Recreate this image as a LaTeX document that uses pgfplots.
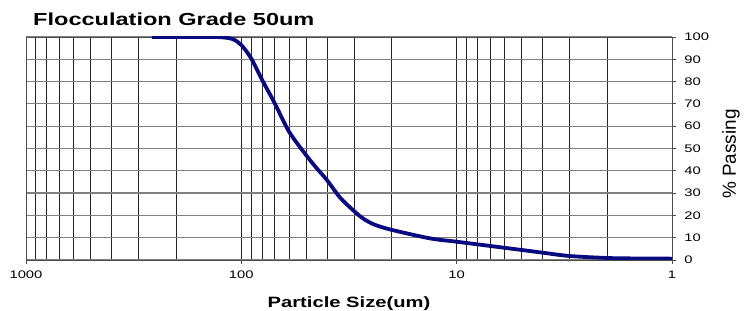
\documentclass[border=0pt]{standalone}
\usepackage{fontspec}
\setmainfont[FakeStretch=1.35]{Liberation Sans}
\newfontfamily\plainfont{Liberation Sans}
\usepackage{pgfplots}
\pgfplotsset{compat=1.18}
\definecolor{curve}{RGB}{10,10,128}
\begin{document}
\begin{tikzpicture}
\path[use as bounding box] (0,0) rectangle (745bp,311bp);
\begin{axis}[
  at={(26bp,51bp)}, anchor=south west,
  scale only axis, width=646bp, height=223bp,
  xmode=log, x dir=reverse,
  xmin=1, xmax=1000, ymin=0, ymax=100,
  xtick={1,10,100,1000}, xticklabels={1,10,100,1000},
  ytick={0,10,...,100}, yticklabels={0,10,20,30,40,50,60,70,80,90,100},
  xtick pos=left, ytick pos=right,
  yticklabel pos=right,
  grid=both,
  major grid style={line width=0.8bp, black!85},
  minor grid style={line width=0.8bp, black!85},
  y grid style={line width=1.2bp, black!50},
  tick align=outside,
  major tick length=4bp, minor tick length=0pt,
  tick style={black!70, line width=0.8bp},
  axis line style={black!70, line width=0.9bp},
  ticklabel style={font=\fontsize{11}{12}\selectfont},
  xticklabel style={yshift=-3bp},
  yticklabel style={xshift=5bp},
]
\addplot[curve, line width=3.8bp, smooth, tension=0.5] coordinates {
(1,0.6) (1.5,0.7) (2,0.9) (3,1.8) (4,3.3) (5,4.5) (7,6.3) (10,8.2)
(13.3,9.7) (20,13.5) (24,15.8) (27,18.4) (30,22) (34.8,28) (40,35.8)
(45,41.5) (50,47) (60,57.5) (70,70.3) (80,80.7) (90,90.4) (100,96.4) (110,99.1)
(125,99.9) (150,100) (260,100)
};
\end{axis}
\node[anchor=base west, inner sep=0pt, font=\fontsize{17.5}{20}\selectfont\bfseries] at (33bp,285bp) {Flocculation Grade 50um};
\node[anchor=base, inner sep=0pt, font=\fontsize{15}{18}\selectfont\bfseries] at (349bp,3.5bp) {Particle Size(um)};
\node[anchor=center, rotate=90, inner sep=0pt, font=\plainfont\fontsize{19}{22}\selectfont] at (731bp,157bp) {\% Passing};
\end{tikzpicture}
\end{document}
